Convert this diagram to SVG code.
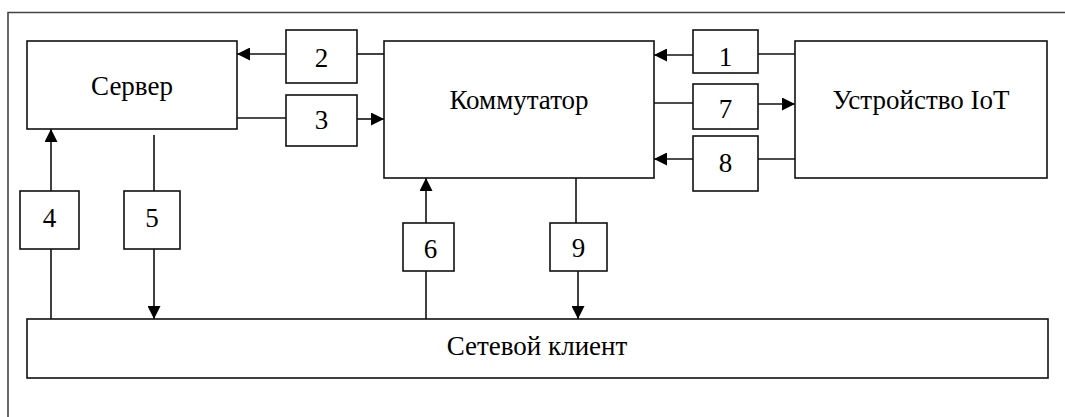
<svg xmlns="http://www.w3.org/2000/svg" width="1065" height="417" viewBox="0 0 1065 417">
<style>
.box{fill:#fff;stroke:#111;stroke-width:1.6}
.ln{fill:none;stroke:#111;stroke-width:1.6}
.arr{marker-end:url(#ah)}
text{font-family:'Liberation Serif','Times New Roman','DejaVu Serif',serif;font-size:27px;fill:#000;text-anchor:middle}
.frame{fill:none;stroke:#444;stroke-width:1.6}
</style>
<defs>
<marker id="ah" viewBox="0 0 13 13" refX="13" refY="6.5" markerWidth="13" markerHeight="13" orient="auto" markerUnits="userSpaceOnUse">
<path d="M0,0 L13,6.5 L0,13 z" fill="#000"/>
</marker>
</defs>
<path class="frame" d="M8,417 V12.5 H1065"/>
<g id="connectors">
<path class="ln arr" d="M286,54 H237"/>
<path class="ln" d="M357,54 H384"/>
<path class="ln" d="M237,118 H286"/>
<path class="ln arr" d="M357,119 H384"/>
<path class="ln" d="M795,54 H758"/>
<path class="ln arr" d="M693,55 H654"/>
<path class="ln" d="M654,103 H693"/>
<path class="ln arr" d="M758,104 H795"/>
<path class="ln" d="M795,159 H758"/>
<path class="ln arr" d="M693,159 H654"/>
<path class="ln" d="M51,319 V249"/>
<path class="ln arr" d="M51,191 V129"/>
<path class="ln" d="M154,135 V191"/>
<path class="ln arr" d="M154,249 V319"/>
<path class="ln" d="M426,319 V271"/>
<path class="ln arr" d="M426,223 V178"/>
<path class="ln" d="M576,178 V223"/>
<path class="ln arr" d="M578,271 V319"/>
</g>
<g id="server"><rect class="box" x="27" y="41" width="210" height="88"/><text font-family="Liberation Serif, serif" x="132" y="95">Сервер</text></g>
<g id="switch"><rect class="box" x="384" y="41" width="270" height="137"/><text font-family="Liberation Serif, serif" x="519" y="109">Коммутатор</text></g>
<g id="device"><rect class="box" x="795" y="41" width="252" height="137"/><text font-family="Liberation Serif, serif" x="921" y="109">Устройство IoT</text></g>
<g id="client"><rect class="box" x="27" y="319" width="1021" height="59"/><text font-family="Liberation Serif, serif" x="537" y="355">Сетевой клиент</text></g>
<g id="b1"><rect class="box" x="693" y="30" width="65" height="43"/><text x="725.5" y="66">1</text></g>
<g id="b2"><rect class="box" x="286" y="30" width="71" height="53"/><text x="321.5" y="66.5">2</text></g>
<g id="b3"><rect class="box" x="286" y="95" width="71" height="51"/><text x="321.5" y="129">3</text></g>
<g id="b4"><rect class="box" x="20" y="191" width="59" height="58"/><text x="49.5" y="227">4</text></g>
<g id="b5"><rect class="box" x="124" y="191" width="56" height="58"/><text x="152" y="227">5</text></g>
<g id="b6"><rect class="box" x="403" y="223" width="51" height="48"/><text x="430.5" y="257.5">6</text></g>
<g id="b7"><rect class="box" x="693" y="84" width="65" height="45"/><text x="725.5" y="118">7</text></g>
<g id="b8"><rect class="box" x="693" y="136" width="65" height="55"/><text x="725.5" y="171.5">8</text></g>
<g id="b9"><rect class="box" x="550" y="223" width="57" height="48"/><text x="578.5" y="257">9</text></g>
</svg>
